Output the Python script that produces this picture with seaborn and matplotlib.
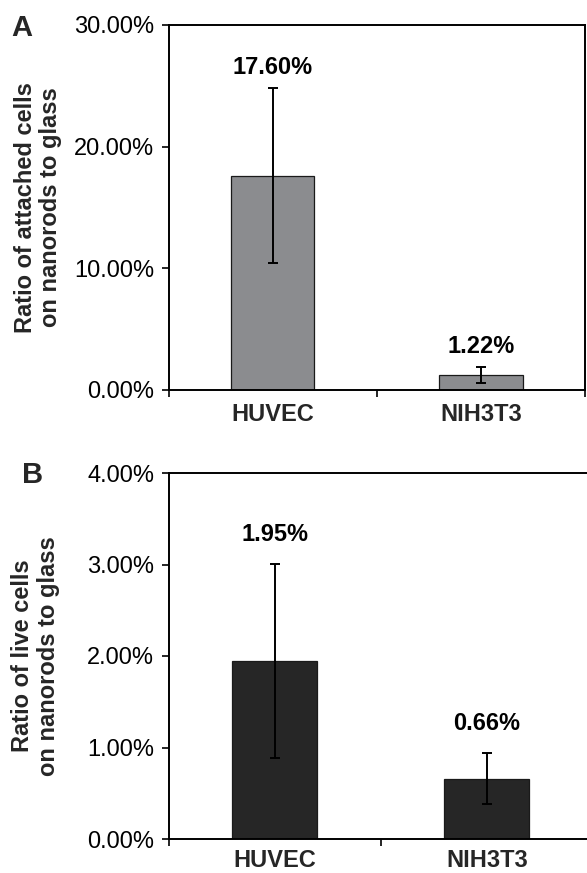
import matplotlib
matplotlib.use("Agg")
import matplotlib.pyplot as plt
import seaborn as sns
import pandas as pd
from matplotlib.ticker import FuncFormatter, FixedLocator

sns.set_theme(style="white")
plt.rcParams['font.family'] = ['Liberation Sans', 'DejaVu Sans']

# ---- data ----
categories = ["HUVEC", "NIH3T3"]
attached = [17.60, 1.22]
attached_err = [7.2, 0.67]
attached_labels = ["17.60%", "1.22%"]
live = [1.95, 0.66]
live_err = [1.06, 0.28]
live_labels = ["1.95%", "0.66%"]
ylabel_a = "Ratio of attached cells\non nanorods to glass"
ylabel_b = "Ratio of live cells\non nanorods to glass"
yticks_a = [0, 10, 20, 30]
yticks_b = [0, 1, 2, 3, 4]

W, H = 587, 873
fig = plt.figure(figsize=(W / 100, H / 100), dpi=100)

def px_axes(left, top, right, bottom):
    return fig.add_axes([left / W, 1 - bottom / H, (right - left) / W, (bottom - top) / H])

axA = px_axes(168.5, 25, 585, 390)
axB = px_axes(168.5, 473, 593, 839)

panels = [
    (axA, attached, attached_err, attached_labels, "#8b8c8f", ylabel_a, yticks_a, "A", 21, (22, 28), 9.5),
    (axB, live, live_err, live_labels, "#262626", ylabel_b, yticks_b, "B", 29, (33, 475), 7),
]

for ax, vals, errs, labels, color, ylab, yt, letter, off_px, letter_pos, xpad in panels:
    df = pd.DataFrame({"cell": categories, "ratio": vals})
    sns.barplot(data=df, x="cell", y="ratio", ax=ax, color=color, width=0.4,
                edgecolor="#1a1a1a", linewidth=0.9, saturation=1, errorbar=None)
    xs = list(range(len(categories)))
    ax.errorbar(xs, vals, yerr=errs, fmt="none", ecolor="black",
                elinewidth=1.4, capsize=3.3, capthick=1.4)
    for x, v, e, lab in zip(xs, vals, errs, labels):
        ax.annotate(lab, xy=(x, v + e), xytext=(0, off_px * 0.72), textcoords="offset points",
                    ha="center", va="center", fontsize=17, fontweight="bold", color="black")
    ax.set_xlim(-0.5, len(categories) - 0.5)
    ax.set_ylim(yt[0], yt[-1])
    ax.yaxis.set_major_locator(FixedLocator(yt))
    ax.yaxis.set_major_formatter(FuncFormatter(lambda v, p: f"{v:.2f}%"))
    ax.set_xlabel("")
    ax.set_ylabel("")
    ax.tick_params(axis="y", which="major", direction="out", length=5.4, width=1.2,
                   labelsize=17, pad=5, left=True, colors="black")
    ax.tick_params(axis="x", which="major", length=0, labelsize=17, pad=xpad)
    for t in ax.get_xticklabels():
        t.set_fontweight("bold")
    ax.set_xticks([-0.5, 0.5, 1.5], minor=True)
    ax.tick_params(axis="x", which="minor", direction="out", length=5.2, width=1.2,
                   bottom=True, color="black")
    for s in ax.spines.values():
        s.set_visible(True)
        s.set_color("black")
        s.set_linewidth(1.4)
    ax.text(-0.313, 0.5, ylab, transform=ax.transAxes, rotation=90, ha="center",
            va="center", multialignment="center", fontsize=17, fontweight="bold",
            linespacing=1.15)
    fig.text(letter_pos[0] / W, 1 - letter_pos[1] / H, letter, ha="center", va="center",
             fontsize=21, fontweight="bold")

fig.savefig("out.png", dpi=100)
